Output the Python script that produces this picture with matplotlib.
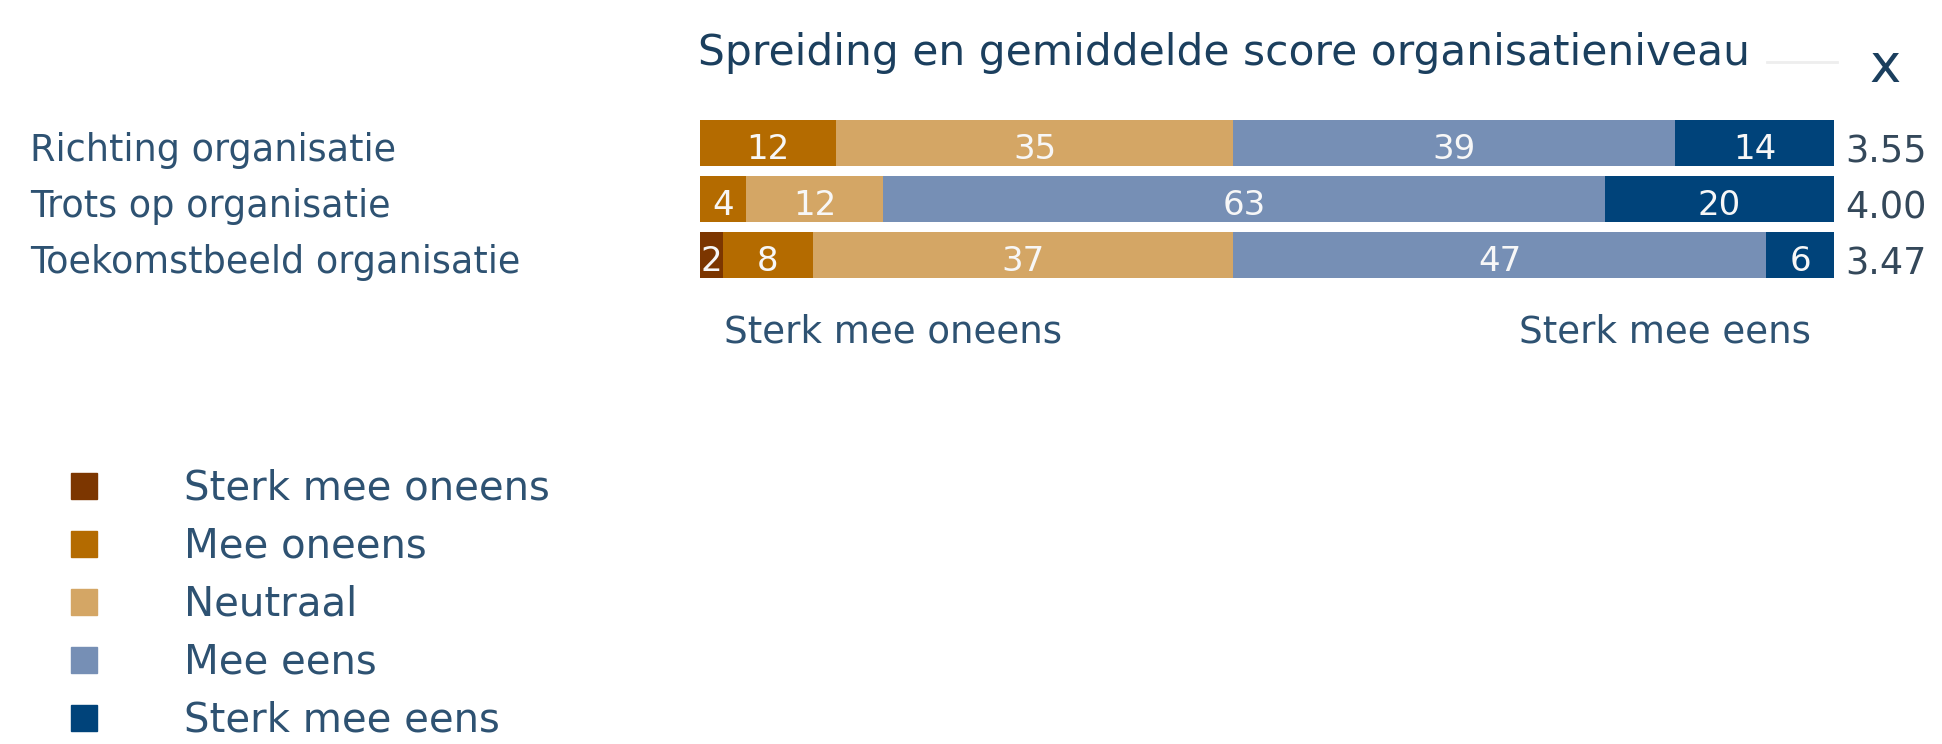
import numpy as np
import matplotlib
matplotlib.use("Agg")
import matplotlib.pyplot as plt
from matplotlib.patches import Rectangle
from matplotlib.lines import Line2D
from matplotlib.transforms import blended_transform_factory

# data
items = ["Richting organisatie", "Trots op organisatie", "Toekomstbeeld organisatie"]
answers = ["Sterk mee oneens", "Mee oneens", "Neutraal", "Mee eens", "Sterk mee eens"]
sterk_oneens = [0, 0, 2]
oneens = [12, 4, 8]
neutraal = [35, 12, 37]
eens = [39, 63, 47]
sterk_eens = [14, 20, 6]
means = ["3.55", "4.00", "3.47"]

colors = ["#7c3600", "#b46b00", "#d4a665", "#768fb5", "#00437a"]
text_col = "#2e5272"
title_col = "#1b3f5e"

W, H = 1942, 744
fig = plt.figure(figsize=(W / 100, H / 100), dpi=100)
fig.patch.set_facecolor("white")

# bar axes: x 700..1834 px, rows centered 143/199/255 px
ax = fig.add_axes([700 / W, 1 - 283 / H, 1134 / W, 168 / H])
ax.set_xlim(0, 100)
ax.set_ylim(2.5, -0.5)
ax.axis("off")

series = np.array([sterk_oneens, oneens, neutraal, eens, sterk_eens], dtype=float)
totals = series.sum(axis=0)
left = np.zeros(len(items))
y = np.arange(len(items))
for vals, col in zip(series, colors):
    w = vals / totals * 100
    ax.barh(y, w, left=left, height=0.82, color=col, edgecolor="none")
    for i in range(len(items)):
        if vals[i] > 0:
            ax.text(left[i] + w[i] / 2, y[i] + 0.29, f"{int(vals[i])}", ha="center",
                    va="baseline", color="#f7f7f7", fontsize=24.5)
    left += w

# category labels and means
tr = blended_transform_factory(fig.transFigure, ax.transData)
for i, name in enumerate(items):
    ax.text(30 / W, i + 0.33, name, transform=tr, ha="left", va="baseline",
            color=text_col, fontsize=26.4)
    ax.text(1845 / W, i + 0.35, means[i], transform=tr, ha="left", va="baseline",
            color="#34485a", fontsize=26.4)

# title and close mark
fig.text(698 / W, 1 - 65 / H, "Spreiding en gemiddelde score organisatieniveau",
         ha="left", va="baseline", color=title_col, fontsize=30.5)
fig.text(1869 / W, 1 - 82 / H, "x", ha="left", va="baseline", color=title_col, fontsize=38)
fig.add_artist(Line2D([1767 / W, 1837 / W], [1 - 62 / H, 1 - 62 / H],
                      transform=fig.transFigure, color="#eeeeee", lw=2))

# scale end labels
fig.text(724 / W, 1 - 343 / H, "Sterk mee oneens", ha="left", va="baseline",
         color=text_col, fontsize=26.7)
fig.text(1811 / W, 1 - 343 / H, "Sterk mee eens", ha="right", va="baseline",
         color=text_col, fontsize=26.7)

# legend
for i, (name, col) in enumerate(zip(answers, colors)):
    yc = 486 + i * 58
    fig.add_artist(Rectangle((71 / W, 1 - (yc + 13) / H), 26 / W, 26 / H,
                             transform=fig.transFigure, color=col))
    fig.text(184 / W, 1 - (yc + 13.5) / H, name, ha="left", va="baseline",
             color=text_col, fontsize=29)

fig.savefig("out.png", dpi=100)
